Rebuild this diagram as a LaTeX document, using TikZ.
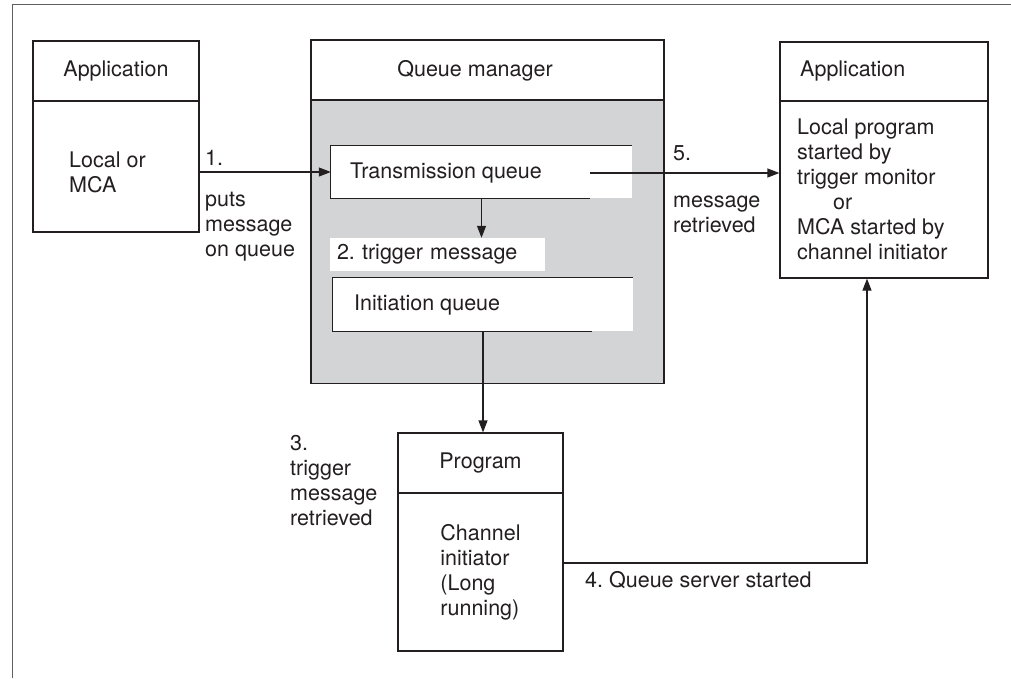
\documentclass[tikz,border=0pt]{standalone}
\usepackage{fontspec}
\setmainfont{TeX Gyre Heros}
\usepackage{xcolor}
\usetikzlibrary{arrows.meta}
\frenchspacing

\definecolor{inkgray}{RGB}{35,31,32}
\definecolor{qmgray}{RGB}{211,212,214}
\definecolor{framegray}{RGB}{95,95,95}

\tikzset{
  box/.style={draw=inkgray, line width=1.2pt, inner sep=0pt, text=inkgray},
  lbl/.style={inner sep=0pt, anchor=west, align=left, text=inkgray},
  conn/.style={draw=inkgray, line width=1.2pt},
  arr/.style={conn, -{Triangle[length=12pt,width=9pt]}},
}

\begin{document}
\begin{tikzpicture}[x=1pt,y=-1pt,font=\fontsize{21.5}{25}\selectfont]
    \useasboundingbox (0,0) rectangle (1011,678);
    \draw[framegray, line width=1.4pt] (12.5,678) -- (12.5,4.5) -- (1011,4.5);

    % left application
    \node[box, minimum width=166pt, minimum height=60pt] (appLh) at (116,71) {Application};
    \node[box, minimum width=166pt, minimum height=131pt] (appLb) at (116,166.5) {};
    \node[lbl] (appLt) at (69,172) {Local or\\MCA};

    % queue manager
    \node[box, minimum width=353pt, minimum height=60pt] (qmh) at (487.5,70) {};
    \node[lbl, anchor=center] (qmt) at (475,71) {Queue manager};
    \node[box, fill=qmgray, minimum width=353pt, minimum height=283.5pt] (qmb) at (487.5,241.75) {};

    \node[fill=white, inner sep=0pt, minimum width=301pt, minimum height=52pt] (tq) at (481.5,172) {};
    \draw[conn] ([xshift=259pt]tq.south west) -- (tq.south west) -- (tq.north west) -- (tq.north east);
    \node[lbl] (tqt) at (350,173) {Transmission queue};

    \node[fill=white, inner xsep=7pt, inner ysep=0pt, text width=201pt, minimum height=33pt,
          align=left, text=inkgray] (trg) at (437.5,254.5) {2. trigger message};

    \node[fill=white, inner sep=0pt, minimum width=300pt, minimum height=53pt] (iq) at (483,304.5) {};
    \draw[conn] ([xshift=259pt]iq.south west) -- (iq.south west) -- (iq.north west) -- (iq.north east);
    \node[lbl] (iqt) at (354,305) {Initiation queue};

    % program
    \node[box, minimum width=165pt, minimum height=60pt] (progh) at (480.5,463) {Program};
    \node[box, minimum width=165pt, minimum height=158pt, align=left] (progb) at (480.5,572)
         {Channel\\initiator\\(Long\\running)};

    % right application
    \node[box, minimum width=208pt, minimum height=59pt] (appRh) at (884,71.5) {};
    \node[lbl] (appRht) at (800,71) {Application};
    \node[box, minimum width=208pt, minimum height=177pt] (appRb) at (884,189.5) {};
    \node[lbl] (appRt) at (797,189.5)
         {Local program\\started by\\trigger monitor\\\hspace*{36pt}or\\MCA started by\\channel initiator};

    % step labels
    \node[lbl] (n1) at (205,158) {1.};
    \node[lbl] (n1t) at (205,227) {puts\\message\\on queue};
    \node[lbl] (n5) at (673,153) {5.};
    \node[lbl] (n5t) at (673,214.5) {message\\retrieved};
    \node[lbl] (n3) at (290,480.5) {3.\\trigger\\message\\retrieved};
    \node[lbl] (n4) at (585,580) {4. Queue server started};

    % connectors
    \draw[arr] (appLb.east |- tq.west) -- (tq.west);
    \coordinate (tqout) at (590,173);
    \draw[arr] (tqout) -- (tqout -| appRb.west);
    \draw[arr] (tq.south) -- (tq.south |- trg.north);
    \draw[arr] (iq.south) -- (iq.south |- progh.north);
    \coordinate (srv) at (867,563);
    \draw[arr] (progb.east |- srv) -- (srv) -- (srv |- appRb.south);
\end{tikzpicture}
\end{document}
